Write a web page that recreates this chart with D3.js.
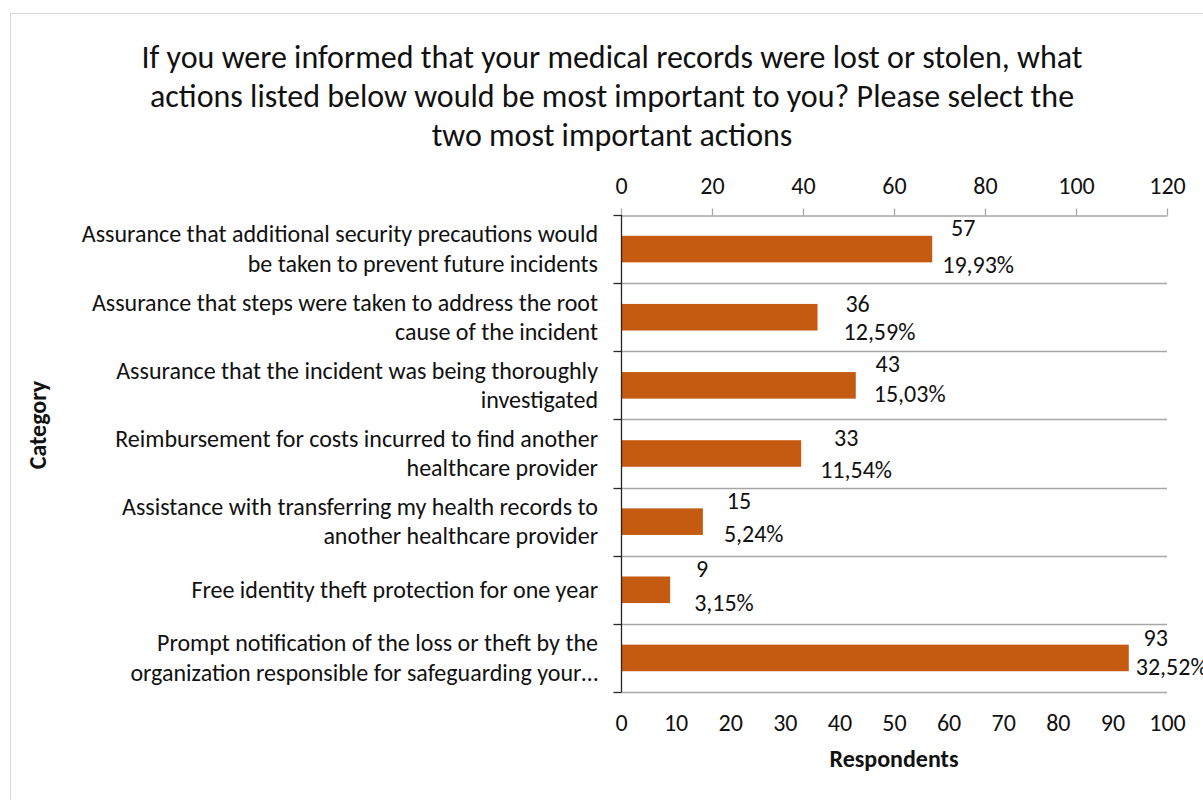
<!DOCTYPE html>
<html>
<head>
<meta charset="utf-8">
<script src="https://cdn.jsdelivr.net/npm/d3@7"></script>
<style>
  html, body { margin: 0; padding: 0; background: #fff; }
  svg { display: block; }
  text { font-family: Carlito, Lato, "Open Sans", sans-serif; fill: #111; }
</style>
</head>
<body>
<svg id="chart" width="1203" height="800"></svg>
<script>
// Survey answers, listed top to bottom
const categories = [
  "Assurance that additional security precautions would be taken to prevent future incidents",
  "Assurance that steps were taken to address the root cause of the incident",
  "Assurance that the incident was being thoroughly investigated",
  "Reimbursement for costs incurred to find another healthcare provider",
  "Assistance with transferring my health records to another healthcare provider",
  "Free identity theft protection for one year",
  "Prompt notification of the loss or theft by the organization responsible for safeguarding your…"
];
// Wrapped lines of each category label
const categoryLines = [
  ["Assurance that additional security precautions would", "be taken to prevent future incidents"],
  ["Assurance that steps were taken to address the root", "cause of the incident"],
  ["Assurance that the incident was being thoroughly", "investigated"],
  ["Reimbursement for costs incurred to find another", "healthcare provider"],
  ["Assistance with transferring my health records to", "another healthcare provider"],
  ["Free identity theft protection for one year"],
  ["Prompt notification of the loss or theft by the", "organization responsible for safeguarding your…"]
];
const respondents = [57, 36, 43, 33, 15, 9, 93];
const shares = [19.93, 12.59, 15.03, 11.54, 5.24, 3.15, 32.52];
const bottomTicks = [0, 10, 20, 30, 40, 50, 60, 70, 80, 90, 100];
const topTicks = [0, 20, 40, 60, 80, 100, 120];
const titleLines = [
  "If you were informed that your medical records were lost or stolen, what",
  "actions listed below would be most important to you? Please select the",
  "two most important actions"
];

// Layout
const plot = { left: 621, right: 1167, top: 215, bottom: 692 };
// Label placement per row: [count dx, count dy, share dx, share dy] from bar end / bar centre
const labelNudge = [
  [31, -13, 10, 24],
  [40, -5, 26, 23],
  [32, -13, 18, 17],
  [45, -8, 19, 24],
  [36, -13, 21, 20],
  [32, -13, 24, 21],
  [27, -12, 7, 17]
];

const svg = d3.select("#chart");

// Chart frame
svg.append("rect")
  .attr("x", 10.5).attr("y", 13.5)
  .attr("width", 1210).attr("height", 810)
  .attr("fill", "#fff").attr("stroke", "#d9d9d9").attr("stroke-width", 1);

// Title
svg.append("g").selectAll("text").data(titleLines).join("text")
  .attr("x", 612).attr("y", (d, i) => 68 + i * 39)
  .attr("text-anchor", "middle")
  .style("font-size", "32px")
  .text(d => d);

const x = d3.scaleLinear().domain([0, 100]).range([plot.left, plot.right]);
const xTop = d3.scaleLinear().domain([0, 120]).range([plot.left, plot.right]);
const y = d3.scaleBand().domain(d3.range(categories.length)).range([plot.top, plot.bottom]).padding(0);

// Horizontal gridlines at category boundaries
const boundaries = d3.range(categories.length + 1).map(i => plot.top + i * y.step());
svg.append("g").selectAll("line").data(boundaries.slice(1)).join("line")
  .attr("x1", plot.left).attr("x2", plot.right)
  .attr("y1", d => Math.round(d) + 0.5).attr("y2", d => Math.round(d) + 0.5)
  .attr("stroke", "#a6a6a6").attr("stroke-width", 1.3);

// Secondary (top) axis
const topAxis = svg.append("g").attr("transform", `translate(0,${plot.top + 0.5})`)
  .call(d3.axisTop(xTop).tickValues(topTicks).tickSize(7).tickPadding(8).tickSizeOuter(0));
topAxis.select(".domain").attr("stroke", "#a6a6a6").attr("stroke-width", 1.3);
topAxis.selectAll(".tick line").attr("stroke", "#a6a6a6").attr("stroke-width", 1.3);
topAxis.selectAll(".tick text").style("font-size", "24px").attr("fill", "#111")
  .style("font-family", "Carlito, Lato, sans-serif").attr("y", -22).attr("dy", 0);

// Primary (bottom) axis: labels only
const bottomAxis = svg.append("g").attr("transform", `translate(0,${plot.bottom})`)
  .call(d3.axisBottom(x).tickValues(bottomTicks).tickSize(0).tickPadding(0));
bottomAxis.select(".domain").remove();
bottomAxis.selectAll(".tick text").style("font-size", "24px").attr("fill", "#111")
  .style("font-family", "Carlito, Lato, sans-serif").attr("y", 39).attr("dy", 0);

// Bars
const barH = y.step() * 0.39;
svg.append("g").selectAll("rect").data(respondents).join("rect")
  .attr("x", x(0))
  .attr("y", (d, i) => y(i) + (y.step() - barH) / 2)
  .attr("width", d => x(d) - x(0))
  .attr("height", barH)
  .attr("fill", "#c55a11");

// Category axis line with outward ticks
const leftAxis = svg.append("g").attr("transform", `translate(${plot.left + 0.5},0)`);
leftAxis.append("line")
  .attr("x1", 0).attr("x2", 0).attr("y1", plot.top).attr("y2", plot.bottom)
  .attr("stroke", "#262626").attr("stroke-width", 1.3);
leftAxis.selectAll("line.tick").data(boundaries).join("line")
  .attr("class", "tick")
  .attr("x1", -8).attr("x2", 0)
  .attr("y1", d => Math.round(d) + 0.5).attr("y2", d => Math.round(d) + 0.5)
  .attr("stroke", "#262626").attr("stroke-width", 1.3);

// Category labels
const catG = svg.append("g").selectAll("text").data(categoryLines).join("text")
  .attr("text-anchor", "end")
  .style("font-size", "24px");
catG.each(function (lines, i) {
  const cy = y(i) + y.step() / 2;
  const lh = 29.3;
  const first = cy + 8 - (lines.length - 1) * lh / 2;
  d3.select(this).selectAll("tspan").data(lines).join("tspan")
    .attr("x", 598).attr("y", (d, j) => first + j * lh)
    .text(d => d);
});

// Value labels: respondent count and share
const fmtShare = v => v.toFixed(2).replace(".", ",") + "%";
svg.append("g").selectAll("text").data(respondents).join("text")
  .attr("x", (d, i) => x(d) + labelNudge[i][0])
  .attr("y", (d, i) => y(i) + y.step() / 2 + labelNudge[i][1])
  .attr("text-anchor", "middle")
  .style("font-size", "24px")
  .text(d => d);
svg.append("g").selectAll("text").data(shares).join("text")
  .attr("x", (d, i) => x(respondents[i]) + labelNudge[i][2])
  .attr("y", (d, i) => y(i) + y.step() / 2 + labelNudge[i][3])
  .attr("text-anchor", "start")
  .style("font-size", "24px")
  .text(d => fmtShare(d));

// Axis titles
svg.append("text")
  .attr("x", 894).attr("y", 767)
  .attr("text-anchor", "middle")
  .style("font-size", "24px").style("font-weight", "bold")
  .text("Respondents");
svg.append("text")
  .attr("transform", "translate(46,425) rotate(-90)")
  .attr("text-anchor", "middle")
  .style("font-size", "24px").style("font-weight", "bold")
  .text("Category");
</script>
</body>
</html>
